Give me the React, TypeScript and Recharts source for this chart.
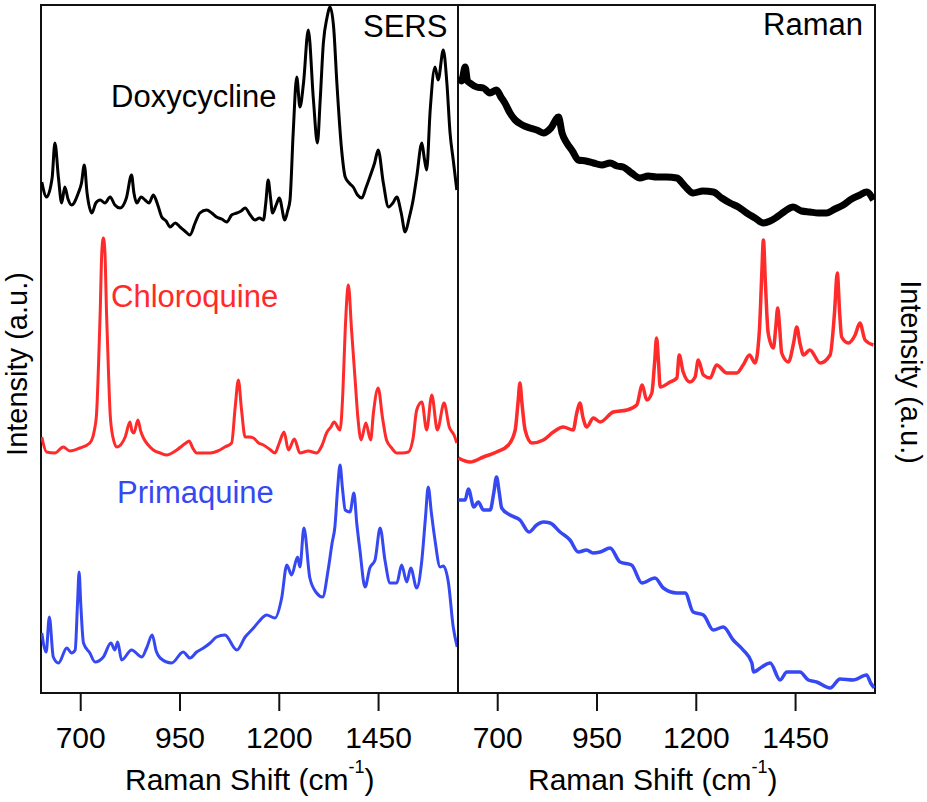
import React from 'react';
import { LineChart, Line, XAxis, YAxis, ReferenceArea } from 'recharts';

// Raman shift tick labels shared by both panels
const shiftTicks = [700, 950, 1200, 1450];

// SERS spectra (left panel), intensity in arbitrary units with vertical offsets
const sersDoxyShift = [602, 614, 628, 635, 644, 652, 660, 668, 677, 694, 702, 709, 716, 728, 738, 749, 761, 774, 786, 799, 815, 828, 834, 841, 852, 862, 872, 883, 894, 904, 915, 925, 938, 950, 962, 975, 988, 1000, 1017, 1030, 1042, 1055, 1068, 1080, 1093, 1104, 1114, 1127, 1139, 1150, 1160, 1166, 1172, 1178, 1183, 1192, 1200, 1214, 1221, 1227, 1235, 1244, 1252, 1261, 1273, 1286, 1296, 1303, 1311, 1320, 1328, 1337, 1345, 1357, 1366, 1376, 1386, 1397, 1408, 1418, 1428, 1440, 1449, 1462, 1475, 1486, 1496, 1507, 1517, 1527, 1537, 1546, 1559, 1565, 1571, 1580, 1592, 1600, 1613, 1622, 1630, 1638, 1647];
const sersDoxyIntensity = [511, 496, 515, 550, 515, 490, 506, 494, 488, 500, 510, 528, 500, 480, 490, 493, 490, 496, 488, 485, 495, 518, 500, 490, 496, 493, 490, 498, 488, 476, 472, 466, 470, 466, 462, 458, 470, 480, 483, 480, 476, 474, 471, 478, 480, 482, 485, 478, 473, 475, 473, 490, 513, 495, 480, 488, 495, 473, 482, 493, 560, 616, 586, 610, 663, 593, 550, 593, 650, 675, 686, 665, 610, 543, 516, 510, 506, 498, 495, 505, 516, 530, 543, 510, 486, 490, 496, 480, 461, 475, 493, 516, 550, 535, 523, 583, 626, 613, 643, 610, 560, 533, 503];

const sersChloroShift = [602, 614, 635, 656, 673, 698, 723, 734, 740, 745, 749, 753, 757, 761, 765, 770, 774, 781, 791, 812, 824, 829, 834, 844, 851, 858, 870, 883, 900, 917, 930, 942, 958, 965, 973, 982, 992, 1010, 1026, 1045, 1063, 1080, 1089, 1097, 1105, 1114, 1125, 1135, 1148, 1160, 1175, 1189, 1200, 1212, 1223, 1238, 1252, 1273, 1294, 1308, 1319, 1330, 1338, 1353, 1360, 1366, 1374, 1382, 1391, 1398, 1406, 1418, 1430, 1437, 1449, 1460, 1470, 1483, 1496, 1510, 1525, 1537, 1546, 1559, 1571, 1584, 1598, 1615, 1628, 1640, 1647];
const sersChloroIntensity = [256, 241, 240, 246, 242, 245, 250, 262, 280, 330, 380, 440, 455, 440, 380, 320, 280, 256, 246, 256, 271, 262, 260, 273, 262, 255, 248, 243, 240, 238, 240, 243, 248, 250, 252, 245, 240, 240, 240, 242, 246, 250, 286, 313, 283, 256, 256, 255, 250, 248, 244, 240, 250, 261, 243, 254, 240, 242, 240, 248, 260, 266, 271, 263, 300, 363, 408, 363, 313, 275, 253, 270, 253, 280, 305, 275, 253, 245, 240, 240, 241, 255, 283, 291, 263, 298, 263, 290, 266, 258, 250];

const sersPrimaShift = [602, 613, 621, 631, 644, 665, 677, 686, 692, 696, 700, 707, 723, 736, 757, 776, 786, 793, 803, 828, 854, 866, 880, 890, 900, 929, 958, 975, 992, 1009, 1026, 1042, 1063, 1093, 1114, 1135, 1150, 1168, 1189, 1206, 1219, 1231, 1246, 1252, 1262, 1277, 1294, 1309, 1323, 1333, 1340, 1347, 1353, 1359, 1366, 1378, 1388, 1395, 1403, 1416, 1428, 1441, 1454, 1466, 1479, 1496, 1508, 1521, 1531, 1546, 1559, 1568, 1575, 1583, 1592, 1605, 1613, 1626, 1638, 1648];
const sersPrimaIntensity = [60, 41, 76, 36, 30, 45, 40, 43, 90, 121, 90, 50, 40, 31, 36, 50, 43, 51, 33, 43, 36, 45, 58, 42, 35, 30, 41, 35, 41, 45, 50, 56, 58, 43, 56, 65, 72, 78, 75, 95, 128, 118, 136, 126, 165, 115, 100, 96, 123, 150, 166, 205, 228, 205, 183, 181, 200, 170, 143, 106, 125, 133, 165, 133, 110, 110, 128, 111, 125, 105, 133, 175, 206, 180, 153, 126, 127, 110, 66, 46];

// Normal Raman spectra (right panel)
const ramanDoxyShift = [601, 609, 618, 624, 630, 647, 664, 680, 697, 708, 718, 731, 744, 762, 781, 798, 815, 834, 853, 862, 874, 888, 903, 922, 941, 962, 983, 1000, 1016, 1037, 1058, 1079, 1100, 1125, 1151, 1171, 1192, 1217, 1243, 1264, 1285, 1306, 1327, 1348, 1369, 1386, 1403, 1424, 1444, 1465, 1486, 1507, 1528, 1549, 1570, 1591, 1612, 1629, 1646];
const ramanDoxyIntensity = [616, 612, 626, 612, 610, 606, 605, 600, 603, 596, 590, 580, 573, 568, 565, 563, 560, 565, 576, 560, 550, 542, 533, 532, 530, 528, 530, 527, 526, 520, 515, 517, 516, 516, 515, 507, 500, 502, 501, 495, 490, 486, 480, 475, 470, 472, 476, 482, 486, 482, 481, 480, 480, 484, 488, 494, 498, 501, 493];

const ramanChloroShift = [601, 630, 664, 697, 727, 744, 751, 756, 761, 769, 786, 815, 840, 865, 890, 899, 907, 915, 924, 941, 958, 991, 1025, 1050, 1064, 1075, 1088, 1095, 1100, 1105, 1109, 1134, 1151, 1157, 1167, 1184, 1197, 1205, 1218, 1235, 1251, 1277, 1302, 1318, 1334, 1348, 1359, 1365, 1369, 1374, 1381, 1394, 1400, 1405, 1410, 1415, 1432, 1445, 1453, 1461, 1470, 1486, 1512, 1537, 1548, 1555, 1561, 1566, 1583, 1600, 1612, 1625, 1646];
const ramanChloroIntensity = [235, 231, 236, 241, 248, 263, 290, 310, 290, 263, 250, 253, 261, 266, 263, 280, 290, 275, 266, 275, 271, 281, 283, 288, 308, 293, 300, 330, 355, 330, 306, 311, 315, 338, 321, 311, 316, 333, 318, 315, 328, 320, 320, 328, 338, 330, 363, 420, 453, 410, 360, 345, 365, 385, 365, 340, 331, 350, 366, 350, 338, 343, 330, 338, 380, 420, 380, 356, 350, 358, 370, 353, 348];

const ramanPrimaShift = [601, 618, 626, 640, 651, 664, 681, 690, 697, 704, 710, 731, 756, 779, 798, 815, 832, 857, 882, 903, 924, 940, 958, 983, 1008, 1037, 1063, 1096, 1117, 1151, 1172, 1192, 1218, 1243, 1268, 1293, 1318, 1340, 1344, 1365, 1386, 1411, 1428, 1461, 1482, 1503, 1537, 1562, 1595, 1629, 1639, 1648];
const ramanPrimaIntensity = [193, 193, 204, 186, 191, 183, 183, 200, 216, 200, 185, 178, 173, 161, 168, 171, 170, 161, 153, 141, 143, 140, 141, 145, 131, 128, 110, 115, 105, 100, 100, 81, 78, 63, 66, 53, 43, 30, 21, 26, 30, 13, 21, 21, 13, 11, 5, 14, 13, 18, 10, 5];

const toPoints = (shift: number[], intensity: number[]) =>
  shift.map((s, i) => ({ shift: s, intensity: intensity[i] }));

const BLACK = '#000000';
const RED = '#ff2a2a';
const BLUE = '#3548f2';
const FRAME = '#111111';
const FONT = '"Liberation Sans", Arial, sans-serif';

interface SeriesDef {
  name: string;
  points: { shift: number; intensity: number }[];
  color: string;
  width: number;
}

interface PanelProps {
  chartWidth: number;
  marginLeft: number;
  marginRight: number;
  series: SeriesDef[];
}

const Panel: React.FC<PanelProps> = ({ chartWidth, marginLeft, marginRight, series }) => (
  <div style={{ position: 'absolute', left: 0, top: 0 }}>
    <LineChart
      width={chartWidth}
      height={802}
      margin={{ top: 5, right: marginRight, bottom: 49, left: marginLeft }}
    >
      <XAxis
        dataKey="shift"
        type="number"
        domain={[600, 1650]}
        ticks={shiftTicks}
        interval={0}
        allowDataOverflow
        axisLine={false}
        tickSize={18}
        tickMargin={16}
        tickLine={{ stroke: FRAME, strokeWidth: 2 }}
        tick={{ fill: '#000', fontSize: 30, fontFamily: FONT }}
        height={60}
      />
      <YAxis hide type="number" domain={[0, 688]} allowDataOverflow />
      <ReferenceArea
        x1={600}
        x2={1650}
        y1={0}
        y2={688}
        fill="none"
        fillOpacity={0}
        stroke={FRAME}
        strokeWidth={2}
      />
      {series.map(s => (
        <Line
          key={s.name}
          data={s.points}
          dataKey="intensity"
          name={s.name}
          type="monotoneX"
          stroke={s.color}
          strokeWidth={s.width}
          strokeLinejoin="round"
          dot={false}
          activeDot={false}
          isAnimationActive={false}
        />
      ))}
    </LineChart>
  </div>
);

const AxisTitle = ({ x }: { x: number }) => (
  <text x={x} y={790} fontSize={30} fontFamily={FONT} fill="#000">
    Raman Shift (cm
    <tspan dy={-17} fontSize={18}>-1</tspan>
    <tspan dy={17}>)</tspan>
  </text>
);

export default function App() {
  const sers: SeriesDef[] = [
    { name: 'Doxycycline', points: toPoints(sersDoxyShift, sersDoxyIntensity), color: BLACK, width: 3 },
    { name: 'Chloroquine', points: toPoints(sersChloroShift, sersChloroIntensity), color: RED, width: 3 },
    { name: 'Primaquine', points: toPoints(sersPrimaShift, sersPrimaIntensity), color: BLUE, width: 3 },
  ];
  const raman: SeriesDef[] = [
    { name: 'Doxycycline', points: toPoints(ramanDoxyShift, ramanDoxyIntensity), color: BLACK, width: 7 },
    { name: 'Chloroquine', points: toPoints(ramanChloroShift, ramanChloroIntensity), color: RED, width: 3.5 },
    { name: 'Primaquine', points: toPoints(ramanPrimaShift, ramanPrimaIntensity), color: BLUE, width: 3.5 },
  ];

  return (
    <div style={{ position: 'absolute', left: 0, top: 0, width: 927, height: 802, background: '#fff' }}>
      <Panel chartWidth={470} marginLeft={41} marginRight={12} series={sers} />
      <Panel chartWidth={927} marginLeft={458} marginRight={52} series={raman} />
      <svg
        width={927}
        height={802}
        style={{ position: 'absolute', left: 0, top: 0, pointerEvents: 'none' }}
      >
        <text x={111} y={107} fontSize={31} fontFamily={FONT} fill={BLACK}>Doxycycline</text>
        <text x={111} y={307} fontSize={31} fontFamily={FONT} fill={RED}>Chloroquine</text>
        <text x={117} y={503} fontSize={31} fontFamily={FONT} fill={BLUE}>Primaquine</text>
        <text x={363} y={37} fontSize={31} fontFamily={FONT} fill="#000">SERS</text>
        <text x={763} y={35} fontSize={31} fontFamily={FONT} fill="#000">Raman</text>
        <text
          transform="translate(27,364) rotate(-90)"
          textAnchor="middle"
          fontSize={29}
          fontFamily={FONT}
          fill="#000"
        >
          Intensity (a.u.)
        </text>
        <text
          transform="translate(901,372) rotate(90)"
          textAnchor="middle"
          fontSize={29}
          fontFamily={FONT}
          fill="#000"
        >
          Intensity (a.u.)
        </text>
        <AxisTitle x={125} />
        <AxisTitle x={528} />
      </svg>
    </div>
  );
}
